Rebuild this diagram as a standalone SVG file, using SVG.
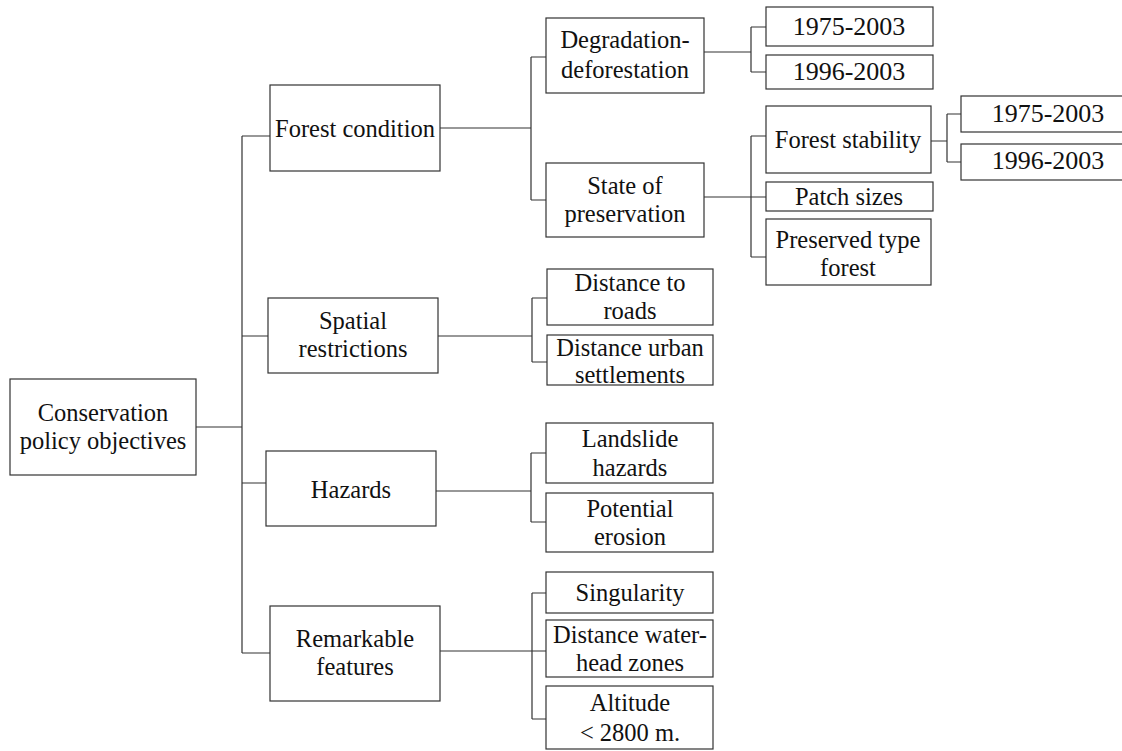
<svg xmlns="http://www.w3.org/2000/svg" width="1122" height="751" viewBox="0 0 1122 751">
  <style>
    .box { fill: #ffffff; stroke: #333333; stroke-width: 1.2; }
    .lbl { font-family: "Liberation Serif", "Times New Roman", serif; font-size: 24.5px; fill: #111111; text-anchor: middle; }
    .date { font-size: 26px; }
    .wire { fill: none; stroke: #333333; stroke-width: 1.2; }
  </style>
  <rect width="1122" height="751" fill="#ffffff"/>

  <!-- connectors -->
  <g id="connectors" class="wire">
    <path d="M196,427 H242 M242,136 V653 M242,136 H270 M242,336 H268 M242,483 H266 M242,653 H270"/>
    <path d="M440,128 H531 M531,57 V200 M531,57 H546 M531,200 H546"/>
    <path d="M704,52 H751 M751,27 V72 M751,27 H766 M751,72 H766"/>
    <path d="M704,197 H751 M751,136 V257 M751,136 H766 M751,197 H766 M751,257 H766"/>
    <path d="M931,141 H947 M947,114 V162 M947,114 H961 M947,162 H961"/>
    <path d="M438,336 H532 M532,298 V362 M532,298 H547 M532,362 H547"/>
    <path d="M436,491 H531 M531,453 V522 M531,453 H546 M531,522 H546"/>
    <path d="M440,651 H532 M532,593 V719 M532,593 H546 M532,651 H546 M532,719 H546"/>
  </g>

  <!-- root -->
  <g id="root">
    <rect class="box" x="10" y="379" width="186" height="96"/>
    <text class="lbl" x="103" y="421">Conservation</text>
    <text class="lbl" x="103" y="449">policy objectives</text>
  </g>

  <!-- second level -->
  <g id="forest-condition">
    <rect class="box" x="270" y="85" width="170" height="86"/>
    <text class="lbl" x="355" y="137">Forest condition</text>
  </g>
  <g id="spatial-restrictions">
    <rect class="box" x="268" y="298" width="170" height="75"/>
    <text class="lbl" x="353" y="329">Spatial</text>
    <text class="lbl" x="353" y="357">restrictions</text>
  </g>
  <g id="hazards">
    <rect class="box" x="266" y="451" width="170" height="75"/>
    <text class="lbl" x="351" y="498">Hazards</text>
  </g>
  <g id="remarkable-features">
    <rect class="box" x="270" y="606" width="170" height="95"/>
    <text class="lbl" x="355" y="647">Remarkable</text>
    <text class="lbl" x="355" y="675">features</text>
  </g>

  <!-- forest condition branch -->
  <g id="degradation">
    <rect class="box" x="546" y="18" width="158" height="75"/>
    <text class="lbl" x="625" y="48">Degradation-</text>
    <text class="lbl" x="625" y="78">deforestation</text>
  </g>
  <g id="state-preservation">
    <rect class="box" x="546" y="163" width="158" height="74"/>
    <text class="lbl" x="625" y="194">State of</text>
    <text class="lbl" x="625" y="222">preservation</text>
  </g>
  <g id="deg-1975">
    <rect class="box" x="766" y="7" width="167" height="39"/>
    <text class="lbl date" x="849" y="35">1975-2003</text>
  </g>
  <g id="deg-1996">
    <rect class="box" x="766" y="55" width="167" height="34"/>
    <text class="lbl date" x="849" y="80">1996-2003</text>
  </g>
  <g id="forest-stability">
    <rect class="box" x="766" y="106" width="165" height="67"/>
    <text class="lbl" x="848" y="148">Forest stability</text>
  </g>
  <g id="patch-sizes">
    <rect class="box" x="766" y="182" width="167" height="29"/>
    <text class="lbl" x="849" y="205">Patch sizes</text>
  </g>
  <g id="preserved-type">
    <rect class="box" x="766" y="219" width="165" height="66"/>
    <text class="lbl" x="848" y="248">Preserved type</text>
    <text class="lbl" x="848" y="276">forest</text>
  </g>
  <g id="stab-1975">
    <rect class="box" x="961" y="96" width="174" height="36"/>
    <text class="lbl date" x="1048" y="122">1975-2003</text>
  </g>
  <g id="stab-1996">
    <rect class="box" x="961" y="144" width="174" height="36"/>
    <text class="lbl date" x="1048" y="169">1996-2003</text>
  </g>

  <!-- spatial restrictions branch -->
  <g id="dist-roads">
    <rect class="box" x="547" y="269" width="166" height="56"/>
    <text class="lbl" x="630" y="291">Distance to</text>
    <text class="lbl" x="630" y="319">roads</text>
  </g>
  <g id="dist-urban">
    <rect class="box" x="547" y="335" width="166" height="50"/>
    <text class="lbl" x="630" y="356">Distance urban</text>
    <text class="lbl" x="630" y="383">settlements</text>
  </g>

  <!-- hazards branch -->
  <g id="landslide">
    <rect class="box" x="546" y="423" width="167" height="60"/>
    <text class="lbl" x="630" y="447">Landslide</text>
    <text class="lbl" x="630" y="476">hazards</text>
  </g>
  <g id="erosion">
    <rect class="box" x="546" y="493" width="167" height="59"/>
    <text class="lbl" x="630" y="517">Potential</text>
    <text class="lbl" x="630" y="545">erosion</text>
  </g>

  <!-- remarkable features branch -->
  <g id="singularity">
    <rect class="box" x="546" y="572" width="167" height="41"/>
    <text class="lbl" x="630" y="601">Singularity</text>
  </g>
  <g id="dist-water">
    <rect class="box" x="546" y="620" width="167" height="57"/>
    <text class="lbl" x="630" y="643">Distance water-</text>
    <text class="lbl" x="630" y="671">head zones</text>
  </g>
  <g id="altitude">
    <rect class="box" x="546" y="686" width="167" height="63"/>
    <text class="lbl" x="630" y="711">Altitude</text>
    <text class="lbl" x="630" y="741">&lt; 2800 m.</text>
  </g>
</svg>
